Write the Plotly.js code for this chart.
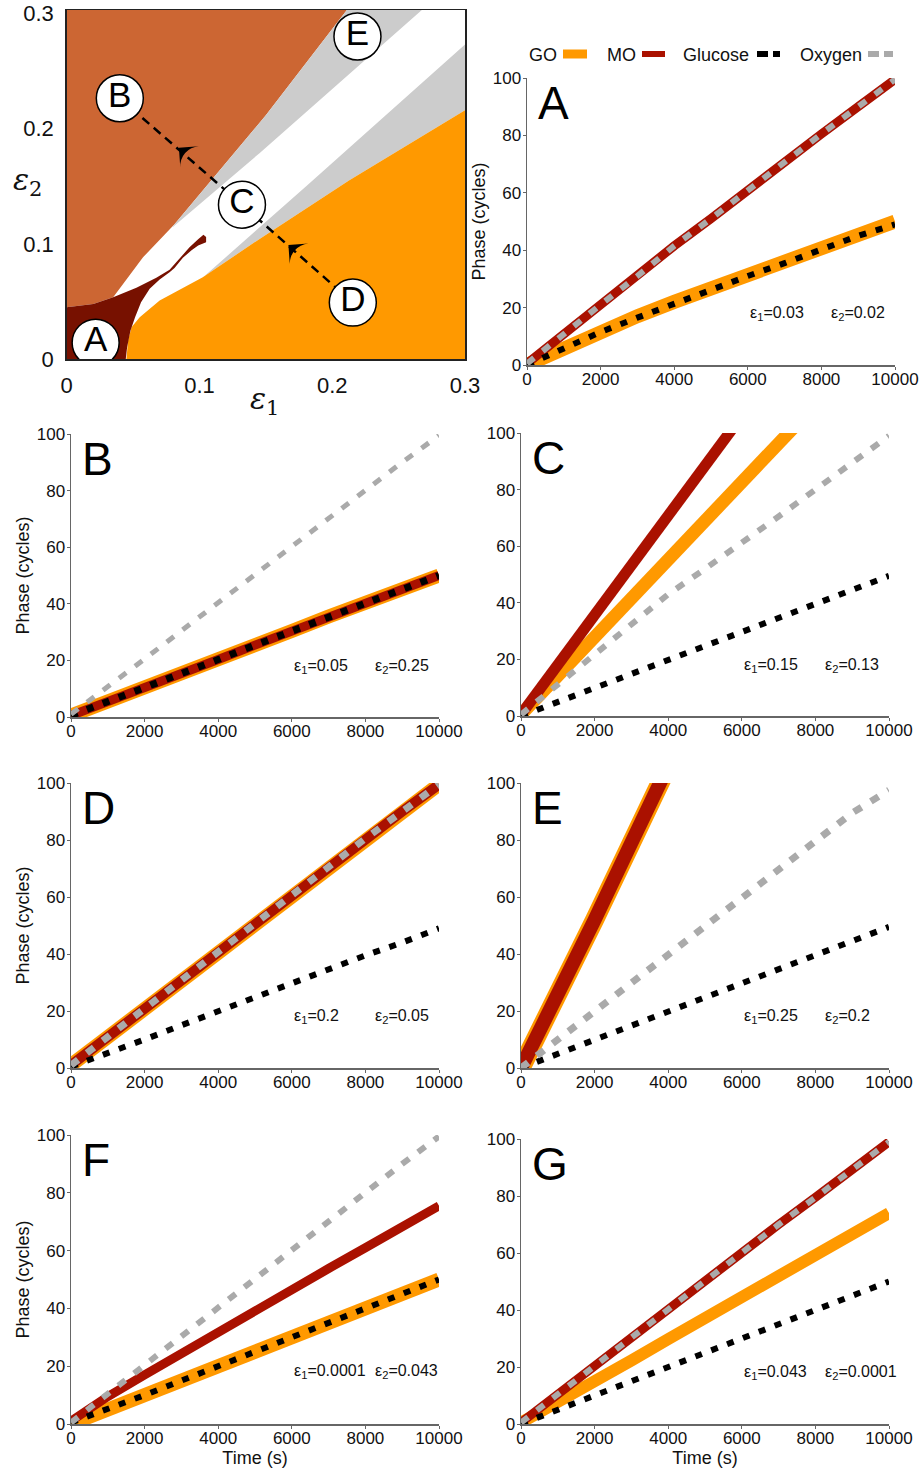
<!DOCTYPE html>
<html><head><meta charset="utf-8">
<script src="https://cdn.plot.ly/plotly-3.0.1.min.js"></script>
<style>html,body{margin:0;padding:0;background:#fff}#chart{width:923px;height:1477px}</style>
</head><body><div id="chart"></div>
<script>
// ---------- Region map (epsilon1 vs epsilon2) boundary polygons ----------
const brownX = [0, 0.02, 0.035, 0.0575, 0.0812, 0.110, 0.150, 0.211, 0];
const brownY = [0.0449, 0.0478, 0.0536, 0.0883, 0.117, 0.1565, 0.2116, 0.303, 0.303];
const grayUpX = [0.0795, 0.110, 0.150, 0.211, 0.2675, 0.145, 0.080];
const grayUpY = [0.1145, 0.1565, 0.2116, 0.303, 0.303, 0.1785, 0.1145];
const grayLowX = [0.1025, 0.181, 0.3, 0.3, 0.2126, 0.145, 0.1025];
const grayLowY = [0.0707, 0.1507, 0.273, 0.216, 0.155, 0.104, 0.071];
const orangeX = [0.045, 0.0462, 0.0488, 0.055, 0.070, 0.1025, 0.145, 0.2126, 0.3, 0.3];
const orangeY = [0, 0.0159, 0.0275, 0.0362, 0.0507, 0.071, 0.104, 0.155, 0.216, 0];
const darkX = [0, 0, 0.02, 0.035, 0.0525, 0.0675, 0.0775, 0.085, 0.0925, 0.099, 0.103, 0.105,
               0.105, 0.099, 0.0938, 0.0875, 0.0812, 0.0775, 0.070, 0.0625, 0.056, 0.0515, 0.048, 0.0455, 0.0445];
const darkY = [0, 0.0449, 0.0478, 0.0536, 0.0618, 0.0705, 0.0774, 0.0870, 0.0970, 0.1040, 0.1078, 0.1060,
               0.1014, 0.0985, 0.0942, 0.0878, 0.0791, 0.0753, 0.0690, 0.0609, 0.0492, 0.0362, 0.0246, 0.0101, 0];
const markLabels = ['A', 'B', 'C', 'D', 'E'];
const markX = [0.0218, 0.040, 0.132, 0.2155, 0.219];
const markY = [0.0142, 0.2264, 0.134, 0.049, 0.280];
const arrowTipX = [0.0845, 0.167];
const arrowTipY = [0.1835, 0.0990];
const mapTicks = [0, 0.1, 0.2, 0.3];
const mapTickText = ['0', '0.1', '0.2', '0.3'];

// ---------- Phase time series ----------
const timeS = [0, 1000, 2000, 3000, 4000, 5000, 6000, 7000, 8000, 9000, 10000];
const panelNames = ['A', 'B', 'C', 'D', 'E', 'F', 'G'];
const eps1 = ['0.03', '0.05', '0.15', '0.2', '0.25', '0.0001', '0.043'];
const eps2 = ['0.02', '0.25', '0.13', '0.05', '0.2', '0.043', '0.0001'];

const goA  = [0, 6, 11.5, 17, 22, 26.5, 31, 36, 40.5, 45.5, 50];
const moA  = [0.5, 11, 21, 31, 41.5, 51, 61, 71, 80.5, 90, 99.5];
const gluA = [0, 6, 11.5, 16.5, 21.5, 26.5, 31, 35.5, 40.5, 45, 49];
const oxyA = [0.5, 11, 21, 31, 41.5, 51, 61, 71, 80.5, 90, 99.5];

const goB  = [0.5, 5.3, 10.2, 15.2, 20.3, 25.4, 30.4, 35.5, 40.6, 45.4, 50];
const moB  = [0.5, 5.3, 10.2, 15.2, 20.3, 25.4, 30.4, 35.5, 40.6, 45.4, 50];
const gluB = [0.5, 5.3, 10.2, 15.2, 20.3, 25.4, 30.4, 35.5, 40.6, 45.4, 50];
const oxyB = [1, 10.5, 20.5, 30.5, 40.5, 50.5, 60, 70, 80, 90, 99.5];

const goC  = [0.5, 14, 27.8, 41.5, 55.3, 69, 82.8, 96.5, 110];
const moC  = [0.5, 18, 35.5, 53, 70.5, 88.5, 106];
const gluC = [0, 5, 10, 15, 20, 25, 30, 35, 40, 44.5, 49.5];
const oxyC = [0.5, 11, 22, 32.5, 43, 52, 61, 70.5, 80, 89.5, 99];

const goD  = [1, 11, 21, 31, 41, 51, 61, 70.5, 80.5, 90, 99.5];
const moD  = [1, 11, 21, 31, 41, 51, 61, 70.5, 80.5, 90, 99.5];
const gluD = [0.5, 5, 10, 15, 20, 24.5, 29.5, 34.5, 39.5, 44, 49];
const oxyD = [1, 11, 21, 31, 41, 51, 61, 70.5, 80.5, 90, 99.5];

const goE  = [0, 25, 52, 79, 106];
const moE  = [0, 25, 52, 79, 106];
const gluE = [0, 5, 10, 15, 20, 25, 30, 35, 40, 44.5, 49.5];
const oxyE = [0, 10, 20, 30, 40, 50, 60, 70, 80, 89.5, 97.5];

const goF  = [0, 5, 10, 15, 20, 25, 30, 35, 40, 45, 50];
const moF  = [1, 9.5, 17, 24.5, 32, 39.3, 46.5, 53.8, 61, 68.3, 75.5];
const gluF = [0.5, 5, 10, 15, 20, 25, 30, 35, 40, 45, 50];
const oxyF = [0.5, 10.5, 20.5, 30.5, 40.5, 50.5, 60.5, 70, 80, 90, 99.5];

const goG  = [0.5, 7.5, 15, 22.3, 29.8, 37.3, 44.8, 52.2, 59.6, 67, 74];
const moG  = [0.5, 10.5, 20.5, 30.5, 40.5, 50, 60, 70, 79.5, 89.5, 99];
const gluG = [0, 5, 10, 15, 20, 25, 30, 35, 40, 45, 50];
const oxyG = [0.5, 10.5, 20.5, 30.5, 40.5, 50, 60, 70, 79.5, 89.5, 99];

const xTicks = [0, 2000, 4000, 6000, 8000, 10000];
const xTickText = ['0', '2000', '4000', '6000', '8000', '10000'];
const yTicks = [0, 20, 40, 60, 80, 100];

// ---------- styling ----------
const W = 923, H = 1477;
const FONT = 'Liberation Sans, Arial, sans-serif';
const C_GO = '#FF9900', C_MO = '#AA1100', C_GLU = '#000000', C_OXY = '#AAAAAA';
const px = v => v / W, py = v => 1 - v / H;

const panels = [
  {go: goA, mo: moA, glu: gluA, oxy: oxyA, dom: [527, 895, 78, 365],  w: [14, 9, 6, 6],  ytitle: true,  xtitle: false},
  {go: goB, mo: moB, glu: gluB, oxy: oxyB, dom: [71, 439, 434, 717],  w: [14, 9, 7, 5],  ytitle: true,  xtitle: false},
  {go: goC, mo: moC, glu: gluC, oxy: oxyC, dom: [521, 889, 433, 716], w: [13, 11, 6, 6], ytitle: false, xtitle: false},
  {go: goD, mo: moD, glu: gluD, oxy: oxyD, dom: [71, 439, 783, 1068], w: [14, 10, 6, 7], ytitle: true,  xtitle: false},
  {go: goE, mo: moE, glu: gluE, oxy: oxyE, dom: [521, 889, 783, 1068],w: [19, 14, 6, 7], ytitle: false, xtitle: false},
  {go: goF, mo: moF, glu: gluF, oxy: oxyF, dom: [71, 439, 1135, 1424],w: [14, 9, 6, 6],  ytitle: true,  xtitle: true},
  {go: goG, mo: moG, glu: gluG, oxy: oxyG, dom: [521, 889, 1139, 1424],w: [12, 9, 6, 6], ytitle: false, xtitle: true}
];

const traces = [];
const layout = {
  width: W, height: H, margin: {l: 0, r: 0, t: 0, b: 0},
  paper_bgcolor: '#fff', plot_bgcolor: '#fff', showlegend: false,
  font: {family: FONT, color: '#111'},
  annotations: [], shapes: []
};

// region map
function poly(x, y, color) {
  traces.push({x: x, y: y, xaxis: 'x', yaxis: 'y', type: 'scatter', mode: 'lines', fill: 'toself',
    fillcolor: color, line: {width: 0, color: color}, hoverinfo: 'skip'});
}
poly(brownX, brownY, '#CC6633');
poly(grayUpX, grayUpY, '#CCCCCC');
poly(grayLowX, grayLowY, '#CCCCCC');
poly(orangeX, orangeY, '#FF9900');
poly(darkX, darkY, '#771100');
// dashed path B -> C -> D
traces.push({x: [markX[1], markX[2], markX[3]], y: [markY[1], markY[2], markY[3]], xaxis: 'x', yaxis: 'y',
  mode: 'lines', line: {color: '#000', width: 2.5, dash: '9px,6px'}, hoverinfo: 'skip'});
// arrowheads pointing up-left along the path
traces.push({x: arrowTipX, y: arrowTipY, xaxis: 'x', yaxis: 'y', mode: 'markers',
  marker: {symbol: 'arrow-wide', size: 20, angle: -49, color: '#000', line: {width: 0}}, hoverinfo: 'skip'});
traces.push({x: markX, y: markY, xaxis: 'x', yaxis: 'y', mode: 'markers+text', text: markLabels,
  textposition: 'middle center', textfont: {family: FONT, size: 35, color: '#000'},
  marker: {size: 47, color: '#fff', line: {color: '#000', width: 1.5}}, hoverinfo: 'skip'});
layout.xaxis = {domain: [px(66.7), px(465)], range: [0, 0.3], anchor: 'y', tickvals: mapTicks,
  ticktext: mapTickText, showline: true, mirror: true, linecolor: '#222', linewidth: 1.5,
  ticks: '', showgrid: false, zeroline: false, tickfont: {size: 22, color: '#111'}, ticklabelstandoff: 6};
layout.yaxis = {domain: [py(359), py(10)], range: [0, 0.303], anchor: 'x', tickvals: mapTicks,
  ticktext: mapTickText, showline: true, mirror: true, linecolor: '#222', linewidth: 1.5,
  ticks: '', showgrid: false, zeroline: false, tickfont: {size: 22, color: '#111'}, ticklabelstandoff: 7};
layout.annotations.push({xref: 'paper', yref: 'paper', x: px(264), y: py(400), xanchor: 'center', yanchor: 'middle',
  showarrow: false, text: '<i>ε</i><sub>1</sub>', font: {family: 'DejaVu Serif, serif', size: 30, color: '#111'}});
layout.annotations.push({xref: 'paper', yref: 'paper', x: px(27), y: py(182), xanchor: 'center', yanchor: 'middle',
  showarrow: false, text: '<i>ε</i><sub>2</sub>', font: {family: 'DejaVu Serif, serif', size: 30, color: '#111'}});

// time panels
panels.forEach((p, i) => {
  const n = i + 2, xa = 'x' + n, ya = 'y' + n;
  const mk = (y, color, width, dash) => ({x: timeS.slice(0, y.length), y: y, xaxis: xa, yaxis: ya,
    mode: 'lines', line: {color: color, width: width, dash: dash}, hoverinfo: 'skip'});
  traces.push(mk(p.go, C_GO, p.w[0], 'solid'));
  traces.push(mk(p.mo, C_MO, p.w[1], 'solid'));
  traces.push(mk(p.glu, C_GLU, p.w[2], '7px,10px'));
  traces.push(mk(p.oxy, C_OXY, p.w[3], '9px,11px'));
  const [x0, x1, y0, y1] = p.dom;
  const xax = {domain: [px(x0), px(x1)], range: [0, 10000], anchor: ya, tickvals: xTicks, ticktext: xTickText,
    showline: true, linecolor: '#666', linewidth: 1.5, ticks: 'outside', ticklen: 3, tickcolor: '#666',
    showgrid: false, zeroline: false, tickfont: {size: 17, color: '#111'}, ticklabelstandoff: -5};
  if (p.xtitle) xax.title = {text: 'Time (s)', font: {size: 18, color: '#111'}, standoff: 4};
  const yax = {domain: [py(y1), py(y0)], range: [0, 100], anchor: xa, tickvals: yTicks,
    showline: true, linecolor: '#666', linewidth: 1.5, ticks: 'outside', ticklen: 3, tickcolor: '#666',
    showgrid: false, zeroline: false, tickfont: {size: 17, color: '#111'}, ticklabelstandoff: -2};
  if (p.ytitle) yax.title = {text: 'Phase (cycles)', font: {size: 18, color: '#111'}, standoff: 2};
  layout['xaxis' + n] = xax;
  layout['yaxis' + n] = yax;
  layout.annotations.push({xref: xa + ' domain', yref: ya + ' domain', x: 0.025, y: 1.01, xanchor: 'left',
    yanchor: 'top', showarrow: false, text: panelNames[i], font: {size: 46, color: '#000'}});
  layout.annotations.push({xref: xa, yref: ya, x: 6000, y: 18, xanchor: 'left', yanchor: 'middle', showarrow: false,
    text: 'ε<sub>1</sub>=' + eps1[i], font: {size: 16, color: '#111'}});
  layout.annotations.push({xref: xa, yref: ya, x: 8200, y: 18, xanchor: 'left', yanchor: 'middle', showarrow: false,
    text: 'ε<sub>2</sub>=' + eps2[i], font: {size: 16, color: '#111'}});
});

// manual legend (label left of swatch)
const legNames = ['GO', 'MO', 'Glucose', 'Oxygen'];
const legColors = [C_GO, C_MO, C_GLU, C_OXY];
const legTextRight = [559, 638, 751, 864];
const legSwatch = [[563, 587, 9, 'solid'], [642, 665, 6, 'solid'], [757, 780, 6, '11px,5px'], [868, 893, 6, '11px,5px']];
legNames.forEach((nm, i) => {
  layout.annotations.push({xref: 'paper', yref: 'paper', x: px(legTextRight[i]), y: py(55), xanchor: 'right',
    yanchor: 'middle', showarrow: false, text: nm, font: {size: 18, color: '#111'}});
  const s = legSwatch[i];
  layout.shapes.push({type: 'line', xref: 'paper', yref: 'paper', x0: px(s[0]), x1: px(s[1]), y0: py(54), y1: py(54),
    line: {color: legColors[i], width: s[2], dash: s[3]}});
});

Plotly.newPlot('chart', traces, layout, {staticPlot: true, displayModeBar: false});
</script></body></html>
